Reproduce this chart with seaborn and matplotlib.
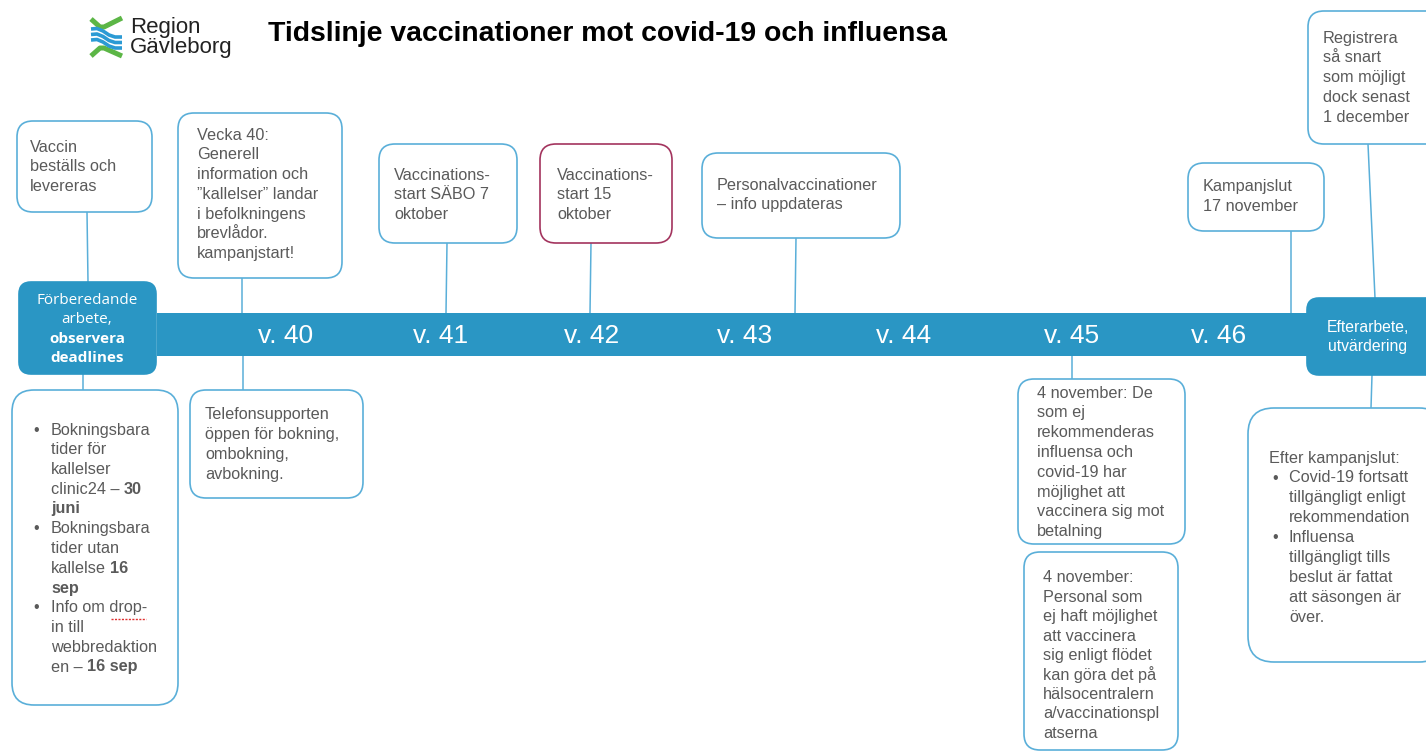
import matplotlib
matplotlib.use("Agg")
import matplotlib.pyplot as plt
from matplotlib.patches import FancyBboxPatch, Rectangle
import seaborn as sns

# ---------------- data ----------------
title = "Tidslinje vaccinationer mot covid-19 och influensa"
logo_lines = ["Region", "Gävleborg"]
week_labels = ["v. 40", "v. 41", "v. 42", "v. 43", "v. 44", "v. 45", "v. 46"]
start_phase = [("Förberedande", False), ("arbete,", False), ("observera", True), ("deadlines", True)]
end_phase = ["Efterarbete,", "utvärdering"]

top_notes = [
    ["Vaccin", "beställs och", "levereras"],
    ["Vecka 40:", "Generell", "information och", "\u201dkallelser\u201d landar", "i befolkningens",
     "brevlådor.", "kampanjstart!"],
    ["Vaccinations-", "start SÄBO 7", "oktober"],
    ["Vaccinations-", "start 15", "oktober"],
    ["Personalvaccinationer", "– info uppdateras"],
    ["Kampanjslut", "17 november"],
    ["Registrera", "så snart", "som möjligt", "dock senast", "1 december"],
]
bottom_notes = [
    ["Telefonsupporten", "öppen för bokning,", "ombokning,", "avbokning."],
    ["4 november: De", "som ej", "rekommenderas", "influensa och", "covid-19 har",
     "möjlighet att", "vaccinera sig mot", "betalning"],
    ["4 november:", "Personal som", "ej haft möjlighet", "att vaccinera", "sig enligt flödet",
     "kan göra det på", "hälsocentralern", "a/vaccinationspl", "atserna"],
]
# list box: each line = (bullet?, [(text, bold), ...])
deadline_list = [
    (True, [("Bokningsbara", False)]),
    (False, [("tider för", False)]),
    (False, [("kallelser", False)]),
    (False, [("clinic24 –", False), ("30", True)]),
    (False, [("juni", True)]),
    (True, [("Bokningsbara", False)]),
    (False, [("tider utan", False)]),
    (False, [("kallelse", False), ("16", True)]),
    (False, [("sep", True)]),
    (True, [("Info om drop-", False)]),
    (False, [("in till", False)]),
    (False, [("webbredaktion", False)]),
    (False, [("en –", False), ("16 sep", True)]),
]
after_header = "Efter kampanjslut:"
after_list = [
    (True, "Covid-19 fortsatt"), (False, "tillgängligt enligt"), (False, "rekommendation"),
    (True, "Influensa"), (False, "tillgängligt tills"), (False, "beslut är fattat"),
    (False, "att säsongen är"), (False, "över."),
]

# ---------------- layout (pixels) ----------------
W, H = 1426, 752
BLUE = "#2A96C4"
EDGE = "#5AAFD9"
RED = "#A3345E"
GRAY = "#5A5A5A"
FS = 11.7
LS = 19.8

sns.set_theme(style="white")
plt.rcParams["font.family"] = ["Liberation Sans", "DejaVu Sans"]

fig = plt.figure(figsize=(W / 100, H / 100), dpi=100)
ax = fig.add_axes([0, 0, 1, 1])
ax.set_xlim(0, W)
ax.set_ylim(H, 0)
ax.axis("off")
fig.canvas.draw()
renderer = fig.canvas.get_renderer()


def rbox(x0, y0, x1, y1, ec=EDGE, fc="white", r=16, lw=1.2, z=2):
    p = FancyBboxPatch((x0, y0), x1 - x0, y1 - y0,
                       boxstyle=f"round,pad=0,rounding_size={r}",
                       fc=fc, ec=ec, lw=lw, zorder=z)
    ax.add_patch(p)


def conn(x0, y0, x1, y1):
    ax.plot([x0, x1], [y0, y1], color=EDGE, lw=1.1, zorder=1)


def lines(x, y, txts, color=GRAY, fs=FS, ls=LS):
    for i, t in enumerate(txts):
        ax.text(x, y + i * ls, t, color=color, fontsize=fs, va="center", ha="left", zorder=5)


def rich(x, y, segs, color=GRAY, fs=FS):
    cur = x
    space = 0.25 * fs * 100 / 72
    for k, (t, b) in enumerate(segs):
        if k > 0:
            cur += space
        tx = ax.text(cur, y, t, color=color, fontsize=fs, va="center", ha="left",
                     fontweight="bold" if b else "normal", zorder=5)
        bb = tx.get_window_extent(renderer)
        cur = bb.x1


# ---- logo ----
green = "#5CB646"
lblue = "#2B9AD4"
ax.plot([91, 100, 104, 122], [19, 27, 27, 18], color=green, lw=3.6, solid_capstyle="butt", zorder=3)
ax.plot([91, 100, 104, 122], [56, 48, 48, 56], color=green, lw=3.6, solid_capstyle="butt", zorder=3)
for dy in (0, 5.5, 11):
    ax.plot([91, 97, 103, 109, 115, 122], [29 + dy, 28.5 + dy, 31 + dy, 35 + dy, 37 + dy, 37 + dy],
            color=lblue, lw=2.6, solid_capstyle="butt", zorder=3)
ax.text(130, 27, logo_lines[0], fontsize=16, color="#222222", va="center", ha="left")
ax.text(130, 48, logo_lines[1], fontsize=16, color="#222222", va="center", ha="left")

# ---- title ----
ax.text(268, 34, title, fontsize=20.4, fontweight="bold", color="black", va="center", ha="left")

# ---- timeline bar ----
ax.add_patch(Rectangle((157, 313), 1310 - 157, 43, fc=BLUE, ec="none", zorder=2))
week_x = [286, 441, 592, 745, 904, 1072, 1219]
for wx, lab in zip(week_x, week_labels):
    ax.text(wx, 336, lab, fontsize=19, color="white", ha="center", va="center", zorder=5)

# ---- phase boxes ----
rbox(19, 282, 156, 374, ec=BLUE, fc=BLUE, r=12, z=3)
for i, (t, b) in enumerate(start_phase):
    ax.text(87, 300 + i * 19.3, t, fontsize=11, color="white", ha="center", va="center",
            fontweight="bold" if b else "normal", family=["Open Sans", "DejaVu Sans"], zorder=5)
rbox(1307, 298, 1445, 375, ec=BLUE, fc=BLUE, r=12, z=3)
for i, t in enumerate(end_phase):
    ax.text(1368, 327 + i * 20, t, fontsize=11.3, color="white", ha="center", va="center", zorder=5)

# ---- top notes ----
top_boxes = [
    (17, 121, 152, 212, EDGE, 30, 147, (87, 212, 88, 282)),
    (178, 113, 342, 278, EDGE, 197, 135, (242, 278, 242, 313)),
    (379, 144, 517, 243, EDGE, 394, 175, (447, 243, 446, 313)),
    (540, 144, 672, 243, RED, 557, 175, (591, 243, 590, 313)),
    (702, 153, 900, 238, EDGE, 717, 185, (796, 238, 795, 313)),
    (1188, 163, 1324, 231, EDGE, 1203, 187, (1291, 231, 1291, 313)),
    (1308, 11, 1445, 144, EDGE, 1323, 38, (1368, 144, 1375, 298)),
]
for (x0, y0, x1, y1, ec, tx, ty, c), txt in zip(top_boxes, top_notes):
    conn(*c)
    rbox(x0, y0, x1, y1, ec=ec)
    lines(tx, ty, txt)

# ---- bottom notes ----
bot_boxes = [
    (190, 390, 363, 498, 205, 415, (243, 356, 243, 390)),
    (1018, 379, 1185, 544, 1037, 393, (1072, 356, 1072, 379)),
    (1024, 552, 1178, 750, 1043, 578, None),
]
for (x0, y0, x1, y1, tx, ty, c), txt in zip(bot_boxes, bottom_notes):
    if c:
        conn(*c)
    rbox(x0, y0, x1, y1)
    lines(tx, ty, txt, ls=LS if len(txt) < 9 else 19.4)

# left deadline list
conn(83, 374, 83, 390)
rbox(12, 390, 178, 705, r=22)
for i, (bul, segs) in enumerate(deadline_list):
    y = 430 + i * 19.75
    if bul:
        ax.text(33, y, "•", color=GRAY, fontsize=FS, va="center", ha="left", zorder=5)
    rich(51, y, segs)
# spelling squiggle under "drop"
ax.plot([111, 146], [619, 619], color="#E03030", lw=1.0, ls=(0, (1.5, 1)), zorder=5)

# after campaign box
conn(1372, 375, 1371, 408)
rbox(1248, 408, 1445, 662, r=26)
ax.text(1269, 458, after_header, color=GRAY, fontsize=FS, va="center", ha="left", zorder=5)
for i, (bul, t) in enumerate(after_list):
    y = 478 + i * 19.9
    if bul:
        ax.text(1272, y, "•", color=GRAY, fontsize=FS, va="center", ha="left", zorder=5)
    ax.text(1289, y, t, color=GRAY, fontsize=FS, va="center", ha="left", zorder=5)

fig.savefig("out.png", dpi=100, facecolor="white")
